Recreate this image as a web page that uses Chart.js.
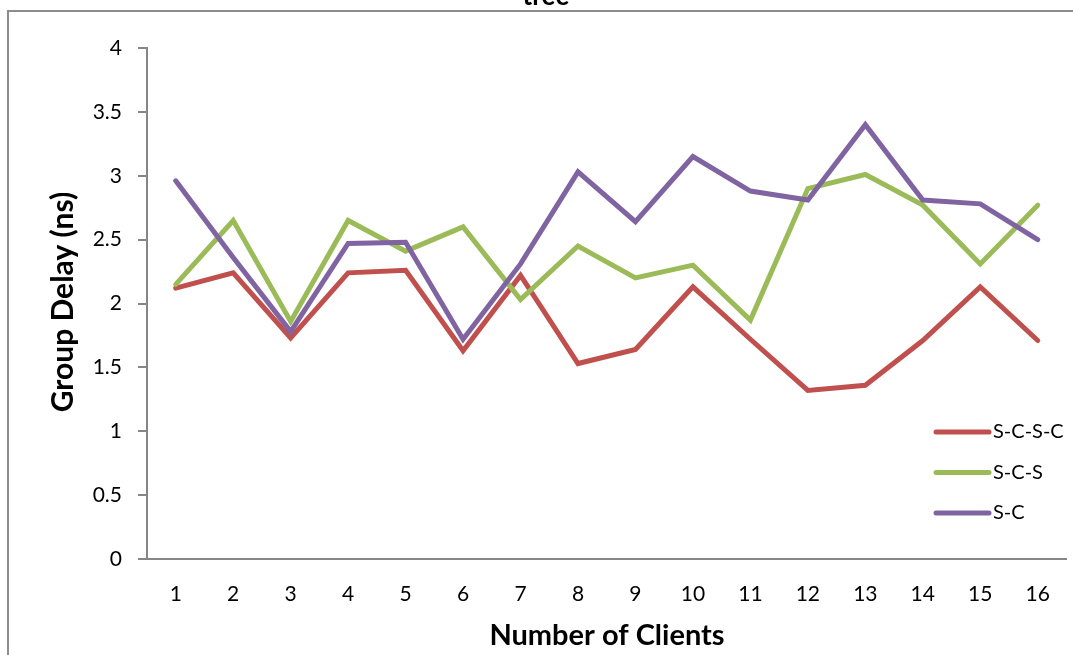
<!DOCTYPE html>
<html>
<head>
<meta charset="utf-8">
<script src="https://cdn.jsdelivr.net/npm/chart.js@4/dist/chart.umd.min.js"></script>
<style>
  html, body { margin: 0; padding: 0; background: #fff; overflow: hidden; }
  #wrap { position: relative; width: 1073px; height: 655px; }
  #frame { position: absolute; left: 7px; top: 10px; width: 1200px; height: 800px;
           border-left: 2px solid #8c8c8c; border-top: 2px solid #8c8c8c; }
  canvas { position: absolute; left: 0; top: 0; }
</style>
</head>
<body>
<div id="wrap">
  <div id="frame"></div>
  <canvas id="chart" width="1073" height="655"></canvas>
</div>
<script>
const clients = ["1","2","3","4","5","6","7","8","9","10","11","12","13","14","15","16"];
const scsc = [2.12, 2.24, 1.73, 2.24, 2.26, 1.63, 2.22, 1.53, 1.64, 2.13, 1.72, 1.32, 1.36, 1.71, 2.13, 1.71];
const scs  = [2.15, 2.65, 1.86, 2.65, 2.41, 2.60, 2.03, 2.45, 2.20, 2.30, 1.87, 2.90, 3.01, 2.77, 2.31, 2.77];
const sc   = [2.96, 2.36, 1.78, 2.47, 2.48, 1.72, 2.31, 3.03, 2.64, 3.15, 2.88, 2.81, 3.40, 2.81, 2.78, 2.50];

const FONT = "Lato, 'Open Sans', sans-serif";
const AXIS_GREY = "#868686";

// titles and legend drawn by hand, as in the Excel original
const overlay = {
  id: "overlay",
  afterDraw(chart) {
    const ctx = chart.ctx;
    const area = chart.chartArea;
    ctx.save();
    ctx.fillStyle = "#000";

    ctx.font = "bold 26px " + FONT;
    ctx.textAlign = "center";
    ctx.textBaseline = "alphabetic";
    ctx.fillText("tree", 546, 5);

    ctx.font = "bold 29px " + FONT;
    ctx.textBaseline = "middle";
    ctx.fillText("Number of Clients", 607, 636);

    ctx.font = "bold 30px " + FONT;
    ctx.save();
    ctx.translate(63, 302);
    ctx.rotate(-Math.PI / 2);
    ctx.fillText("Group Delay (ns)", 0, 0);
    ctx.restore();

    // legend
    ctx.font = "20px " + FONT;
    ctx.textAlign = "left";
    ctx.lineCap = "round";
    ctx.lineWidth = 5;
    [0, 1, 2].forEach((i, k) => {
      const ds = chart.data.datasets[i];
      const y = 432 + k * 40.5;
      ctx.strokeStyle = ds.borderColor;
      ctx.beginPath();
      ctx.moveTo(936, y);
      ctx.lineTo(989, y);
      ctx.stroke();
      ctx.fillText(ds.label, 993, y);
    });
    ctx.restore();
  }
};

new Chart(document.getElementById("chart"), {
  type: "line",
  data: {
    labels: clients,
    datasets: [
      { label: "S-C-S-C", data: scsc, borderColor: "#C0504D", order: 3 },
      { label: "S-C-S",   data: scs,  borderColor: "#9BBB59", order: 2 },
      { label: "S-C",     data: sc,   borderColor: "#8064A2", order: 1 }
    ]
  },
  options: {
    responsive: false,
    animation: false,
    devicePixelRatio: 1,
    layout: { padding: { left: 0, right: 3, top: 48, bottom: 0 } },
    elements: {
      line: { borderWidth: 5, tension: 0, borderJoinStyle: "miter", borderCapStyle: "round" },
      point: { radius: 0, hoverRadius: 0 }
    },
    plugins: {
      legend: { display: false },
      title: { display: false },
      tooltip: { enabled: false }
    },
    scales: {
      x: {
        offset: true,
        grid: { display: false, drawTicks: false },
        border: { display: true, color: AXIS_GREY, width: 2 },
        ticks: { color: "#000", font: { family: FONT, size: 21 }, padding: 23, maxRotation: 0 },
        afterFit(scale) { scale.height = 96; }
      },
      y: {
        min: 0,
        max: 4,
        grid: { drawOnChartArea: false, drawTicks: true, tickLength: 9, color: AXIS_GREY, lineWidth: 2 },
        border: { display: true, color: AXIS_GREY, width: 2 },
        ticks: {
          stepSize: 0.5,
          color: "#000",
          font: { family: FONT, size: 21 },
          padding: 16,
          callback: v => String(v)
        },
        afterFit(scale) { scale.width = 147; }
      }
    }
  },
  plugins: [overlay]
});
</script>
</body>
</html>
